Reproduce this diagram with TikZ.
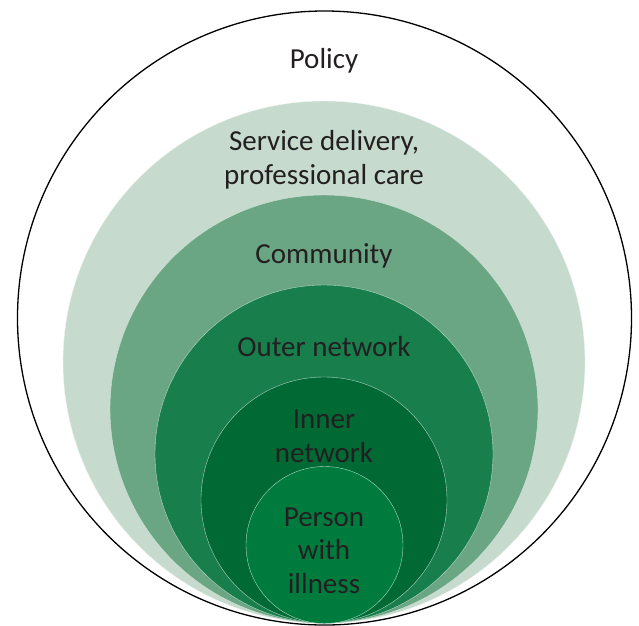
\documentclass[tikz,border=0pt]{standalone}
\usepackage{fontspec}
\setmainfont{Carlito}
\definecolor{ringtext}{HTML}{231F20}
\definecolor{servicegreen}{HTML}{C6DBCE}
\definecolor{communitygreen}{HTML}{6BA684}
\definecolor{outergreen}{HTML}{177E4C}
\definecolor{innergreen}{HTML}{006934}
\definecolor{persongreen}{HTML}{007B3E}
\tikzset{
  ring/.style={circle, inner sep=0pt, outer sep=0pt, draw=white!70!#1, line width=0.4pt, fill=#1},
  label/.style={text=ringtext, align=center, anchor=base,
    font=\fontsize{29}{33.5}\selectfont}
}
\begin{document}
\begin{tikzpicture}[x=1pt, y=-1pt]
    \useasboundingbox (0, 0) rectangle (639, 625);

    % rings
    \node[circle, draw=black, line width=1.3pt, minimum size=614pt, inner sep=0pt] (policy) at (324.5, 318) {};
    \node[ring=servicegreen,   minimum size=522pt] (service)   at (324, 362) {};
    \node[ring=communitygreen, minimum size=428pt] (community) at (324, 409) {};
    \node[ring=outergreen,     minimum size=338pt] (outer)     at (324, 454) {};
    \node[ring=innergreen,     minimum size=246pt] (inner)     at (324, 500) {};
    \node[ring=persongreen,    minimum size=157pt] (person)    at (324.5, 545) {};

    % labels (base = last line)
    \node[label] (policy label)    at (324, 68)  {Policy};
    \node[label] (service label)   at (324, 184) {Service delivery,\\professional care};
    \node[label] (community label) at (324, 263) {Community};
    \node[label] (outer label)     at (324, 356) {Outer network};
    \node[label] (inner label)     at (324, 462) {Inner\\network};
    \node[label] (person label)    at (324, 593) {Person\\with\\illness};
\end{tikzpicture}
\end{document}
